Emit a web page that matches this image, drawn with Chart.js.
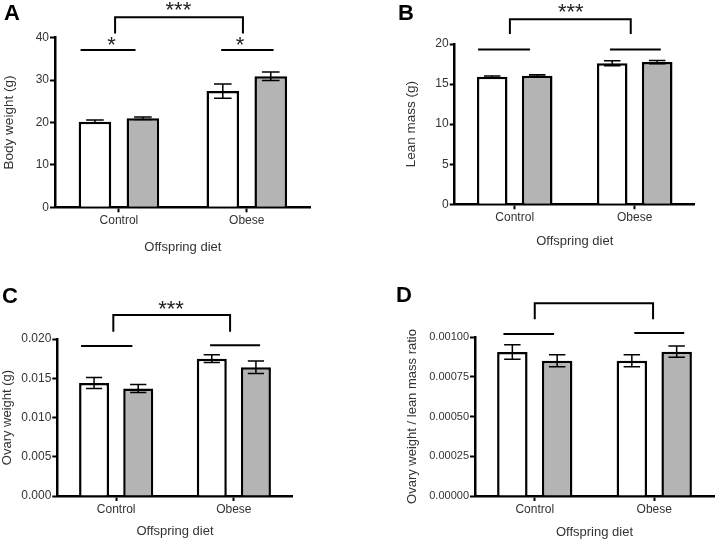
<!DOCTYPE html>
<html>
<head>
<meta charset="utf-8">
<script src="https://cdn.jsdelivr.net/npm/chart.js@4.4.0/dist/chart.umd.min.js"></script>
<style>
  html, body { margin: 0; padding: 0; background: #fff; }
  body { width: 717px; height: 541px; position: relative; overflow: hidden; }
  .panel { position: absolute; }
  .letter { position: absolute; font: bold 22px/22px "Liberation Sans", Arial, sans-serif; color: #000; }
</style>
</head>
<body>
<div class="panel" style="left:0;top:0"><canvas id="chartA" width="358" height="270"></canvas></div>
<div class="panel" style="left:358px;top:0"><canvas id="chartB" width="359" height="270"></canvas></div>
<div class="panel" style="left:0;top:270px"><canvas id="chartC" width="358" height="271"></canvas></div>
<div class="panel" style="left:358px;top:270px"><canvas id="chartD" width="359" height="271"></canvas></div>
<div class="letter" style="left:4px;top:2px">A</div>
<div class="letter" style="left:398px;top:2px">B</div>
<div class="letter" style="left:2px;top:285px">C</div>
<div class="letter" style="left:396px;top:284px">D</div>

<script>
const categories = ['Control', 'Obese'];

// A: body weight (g)
const bodyWeightWhite = [20.2, 27.4];
const bodyWeightWhiteErr = [0.4, 1.7];
const bodyWeightGray = [21.0, 30.9];
const bodyWeightGrayErr = [0.3, 1.0];
const bodyWeightTicks = [0, 10, 20, 30, 40];

// B: lean mass (g)
const leanMassWhite = [15.9, 17.6];
const leanMassWhiteErr = [0.1, 0.3];
const leanMassGray = [16.05, 17.75];
const leanMassGrayErr = [0.1, 0.2];
const leanMassTicks = [0, 5, 10, 15, 20];

// C: ovary weight (g)
const ovaryWhite = [0.0144, 0.0175];
const ovaryWhiteErr = [0.0007, 0.0005];
const ovaryGray = [0.0137, 0.0164];
const ovaryGrayErr = [0.0005, 0.0008];
const ovaryTicks = [0, 0.005, 0.01, 0.015, 0.02];

// D: ovary weight / lean mass ratio
const ratioWhite = [0.000906, 0.000851];
const ratioWhiteErr = [0.000046, 0.000038];
const ratioGray = [0.000851, 0.000908];
const ratioGrayErr = [0.000038, 0.000036];
const ratioTicks = [0, 0.00025, 0.0005, 0.00075, 0.001];

// significance marks: [fromIndex, toIndex, value], bracket [from, to, top, legEnd], stars [index, value, text]
const sigLinesA = [[-0.3, 0.13, 37.1], [0.8, 1.21, 37.1]];
const bracketA = [-0.03, 0.97, 44.8, 41.0];
const starsA = [[-0.057, 39.2, '*'], [0.948, 39.2, '*'], [0.465, 47.5, '***']];

const sigLinesB = [[-0.306, 0.128, 19.3], [0.794, 1.217, 19.3]];
const bracketB = [-0.04, 0.967, 23.1, 21.25];
const starsB = [[0.467, 24.5, '***']];

const sigLinesC = [[-0.298, 0.138, 0.0191], [0.798, 1.223, 0.0192]];
const bracketC = [-0.024, 0.968, 0.02306, 0.02093];
const starsC = [[0.466, 0.02427, '***']];

const sigLinesD = [[-0.262, 0.162, 0.001019], [0.833, 1.251, 0.001025]];
const bracketD = [0.0, 0.99, 0.001212, 0.001111];
const starsD = [];

const family = '"Liberation Sans", Arial, sans-serif';

const errorBars = {
  id: 'errorBars',
  afterDatasetsDraw(chart) {
    const ctx = chart.ctx;
    const y = chart.scales.y;
    ctx.save();
    ctx.strokeStyle = '#000';
    ctx.lineWidth = 1.5;
    chart.data.datasets.forEach((ds, i) => {
      chart.getDatasetMeta(i).data.forEach((bar, j) => {
        const top = y.getPixelForValue(ds.data[j] + ds.err[j]);
        const bot = y.getPixelForValue(ds.data[j] - ds.err[j]);
        const half = bar.width * 0.27;
        ctx.beginPath();
        ctx.moveTo(bar.x, top);
        ctx.lineTo(bar.x, bot);
        ctx.moveTo(bar.x - half, top);
        ctx.lineTo(bar.x + half, top);
        ctx.moveTo(bar.x - half, bot);
        ctx.lineTo(bar.x + half, bot);
        ctx.stroke();
      });
    });
    ctx.restore();
  },
};

const sigMarks = {
  id: 'sigMarks',
  afterDraw(chart, args, opts) {
    const { ctx } = chart;
    const { x, y } = chart.scales;
    ctx.save();
    ctx.strokeStyle = '#000';
    ctx.lineWidth = 2;
    opts.lines.forEach(([a, b, v]) => {
      const py = y.getPixelForValue(v);
      ctx.beginPath();
      ctx.moveTo(x.getPixelForValue(a), py);
      ctx.lineTo(x.getPixelForValue(b), py);
      ctx.stroke();
    });
    if (opts.bracket) {
      const [a, b, top, leg] = opts.bracket;
      const pt = y.getPixelForValue(top);
      const pl = y.getPixelForValue(leg);
      ctx.beginPath();
      ctx.moveTo(x.getPixelForValue(a), pl);
      ctx.lineTo(x.getPixelForValue(a), pt);
      ctx.lineTo(x.getPixelForValue(b), pt);
      ctx.lineTo(x.getPixelForValue(b), pl);
      ctx.stroke();
    }
    ctx.font = '22px ' + family;
    ctx.fillStyle = '#222';
    ctx.textAlign = 'center';
    ctx.textBaseline = 'alphabetic';
    opts.stars.forEach(([a, v, t]) => {
      const m = ctx.measureText(t);
      const cy = y.getPixelForValue(v);
      ctx.fillText(t, x.getPixelForValue(a), cy + (m.actualBoundingBoxAscent - m.actualBoundingBoxDescent) / 2);
    });
    ctx.restore();
  },
};

function drawPanel(id, p) {
  new Chart(document.getElementById(id), {
    type: 'bar',
    data: {
      labels: categories,
      datasets: [
        {
          data: p.white,
          err: p.whiteErr,
          backgroundColor: '#ffffff',
          borderColor: '#000',
          borderWidth: 2.5,
          categoryPercentage: 0.75,
          barPercentage: 0.68,
        },
        {
          data: p.gray,
          err: p.grayErr,
          backgroundColor: '#b4b4b4',
          borderColor: '#000',
          borderWidth: 2.5,
          categoryPercentage: 0.75,
          barPercentage: 0.68,
        },
      ],
    },
    options: {
      responsive: false,
      animation: false,
      layout: { padding: p.pad },
      plugins: {
        legend: { display: false },
        tooltip: { enabled: false },
        sigMarks: { lines: p.lines, bracket: p.bracket, stars: p.stars },
      },
      scales: {
        x: {
          grid: { drawOnChartArea: false, offset: false, tickLength: 5, tickWidth: 2, tickColor: '#000' },
          border: { color: '#000', width: 2.5 },
          ticks: { color: '#333', font: { family, size: 12 }, padding: 1 },
          title: { display: true, text: 'Offspring diet', color: '#333', font: { family, size: 13 }, padding: 0 },
          afterFit: (s) => { s.height = p.xh; },
        },
        y: {
          min: 0,
          max: p.ticks[p.ticks.length - 1],
          afterBuildTicks: (s) => { s.ticks = p.ticks.map((v) => ({ value: v })); },
          grid: { drawOnChartArea: false, tickLength: 5, tickWidth: 2, tickColor: '#000' },
          border: { color: '#000', width: 2.5 },
          ticks: { color: '#333', font: { family, size: p.tickSize }, padding: 1, callback: (v) => v.toFixed(p.dec) },
          title: { display: true, text: p.title, color: '#333', font: { family, size: p.titleSize }, padding: 0 },
          afterFit: (s) => { s.width = p.yw; },
        },
      },
    },
    plugins: [errorBars, sigMarks],
  });
}

drawPanel('chartA', {
  white: bodyWeightWhite, whiteErr: bodyWeightWhiteErr, gray: bodyWeightGray, grayErr: bodyWeightGrayErr,
  ticks: bodyWeightTicks, dec: 0, title: 'Body weight (g)', titleSize: 13.5, tickSize: 12,
  lines: sigLinesA, bracket: bracketA, stars: starsA,
  pad: { left: 1.6, right: 47.3, top: 37.7, bottom: 15.2 }, yw: 53.4, xh: 47.5,
});
drawPanel('chartB', {
  white: leanMassWhite, whiteErr: leanMassWhiteErr, gray: leanMassGray, grayErr: leanMassGrayErr,
  ticks: leanMassTicks, dec: 0, title: 'Lean mass (g)', titleSize: 13.5, tickSize: 12,
  lines: sigLinesB, bracket: bracketB, stars: starsB,
  pad: { left: 44.7, right: 22.3, top: 44, bottom: 21.2 }, yw: 52, xh: 44.5,
});
drawPanel('chartC', {
  white: ovaryWhite, whiteErr: ovaryWhiteErr, gray: ovaryGray, grayErr: ovaryGrayErr,
  ticks: ovaryTicks, dec: 3, title: 'Ovary weight (g)', titleSize: 13, tickSize: 12,
  lines: sigLinesC, bracket: bracketC, stars: starsC,
  pad: { left: 0, right: 65.3, top: 69, bottom: 1.5 }, yw: 57.3, xh: 43.5,
});
drawPanel('chartD', {
  white: ratioWhite, whiteErr: ratioWhiteErr, gray: ratioGray, grayErr: ratioGrayErr,
  ticks: ratioTicks, dec: 5, title: 'Ovary weight / lean mass ratio', titleSize: 13, tickSize: 11,
  lines: sigLinesD, bracket: bracketD, stars: starsD,
  pad: { left: 46.2, right: 3, top: 67, bottom: 0.5 }, yw: 70.8, xh: 44.5,
});
</script>
</body>
</html>
